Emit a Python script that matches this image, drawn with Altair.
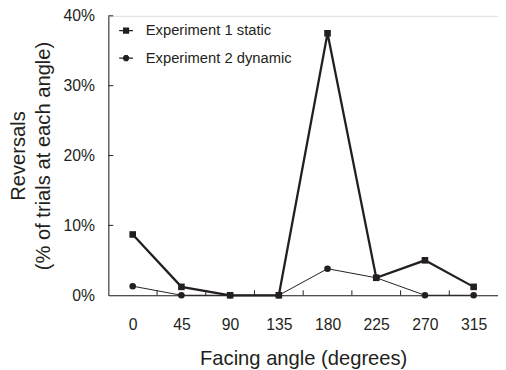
import altair as alt
import pandas as pd

angles = [0, 45, 90, 135, 180, 225, 270, 315]
exp1_static = [0.087, 0.012, 0.0, 0.0, 0.375, 0.025, 0.050, 0.012]
exp2_dynamic = [0.013, 0.0, 0.0, 0.0, 0.038, 0.025, 0.0, 0.0]
series_names = ["Experiment 1 static", "Experiment 2 dynamic"]
tick_bounds = [22.5, 67.5, 112.5, 157.5, 202.5, 247.5, 292.5]
y_ticks = [0.0, 0.1, 0.2, 0.3, 0.4]

rows = []
for a, v in zip(angles, exp1_static):
    rows.append({"angle": a, "value": v, "series": series_names[0]})
for a, v in zip(angles, exp2_dynamic):
    rows.append({"angle": a, "value": v, "series": series_names[1]})
df = pd.DataFrame(rows)

INK = "#231f20"
FONT = "Liberation Sans"
W, H = 396, 284

xscale = alt.Scale(domain=[-22.5, 337.5], nice=False, zero=False)
yscale = alt.Scale(domain=[0, 0.4], nice=False)

xaxis = alt.Axis(values=angles, ticks=False, grid=False, labelFontSize=16, labelFont=FONT,
                 labelColor=INK, labelPadding=22, title="Facing angle (degrees)",
                 titleFont=FONT, titleFontSize=20.5, titleFontWeight="normal", titleColor=INK,
                 titlePadding=16, domainColor=INK, labelAngle=0)
yaxis = alt.Axis(values=y_ticks, format=".0%", ticks=False, grid=False, labelFontSize=16,
                 labelFont=FONT, labelColor=INK, labelPadding=14,
                 title=["Reversals", "(% of  trials at each angle)"], titleFont=FONT,
                 titleFontSize=20.5, titleFontWeight="normal", titleColor=INK, titlePadding=10,
                 domainColor=INK, titleLineHeight=25)

base = alt.Chart(df)

line2 = base.transform_filter(alt.datum.series == series_names[1]).mark_line(
    color=INK, strokeWidth=1).encode(
    x=alt.X("angle:Q", scale=xscale, axis=xaxis),
    y=alt.Y("value:Q", scale=yscale, axis=yaxis))
line1 = base.transform_filter(alt.datum.series == series_names[0]).mark_line(
    color=INK, strokeWidth=2.3).encode(x="angle:Q", y="value:Q")

pts = base.mark_point(filled=True, opacity=1, size=45, color=INK).encode(
    x="angle:Q", y="value:Q",
    shape=alt.Shape("series:N", scale=alt.Scale(domain=series_names[::-1], range=["circle", "square"]),
                    legend=None),
    order=alt.Order("series:N", sort="descending"))

# legend glyphs: a short line with a marker, the marker filled by dense strokes
sq_path = ("M-1,0H1M-0.45,-0.36H0.45M-0.45,-0.21H0.45M-0.45,-0.07H0.45"
           "M-0.45,0.07H0.45M-0.45,0.21H0.45M-0.45,0.36H0.45")
ci_path = ("M-1,0H1M-0.27,-0.36H0.27M-0.4,-0.21H0.4M-0.445,-0.07H0.445"
           "M-0.445,0.07H0.445M-0.4,0.21H0.4M-0.27,0.36H0.27")
leg = base.mark_point(filled=False, color=INK, opacity=0, size=196, strokeWidth=1.3).encode(
    x="angle:Q", y="value:Q",
    shape=alt.Shape("series2:N", scale=alt.Scale(domain=series_names, range=[sq_path, ci_path]),
                    legend=alt.Legend(title=None, orient="none", legendX=10, legendY=7,
                                      labelFont=FONT, labelFontSize=15, labelColor=INK,
                                      symbolOpacity=1, symbolStrokeColor=INK,
                                      symbolStrokeWidth=1.3, symbolSize=196, rowPadding=12,
                                      labelOffset=12, padding=0))
).transform_calculate(series2="datum.series")

bounds_df = pd.DataFrame({"b": tick_bounds})
xt = alt.Chart(bounds_df).mark_rule(color=INK, strokeWidth=1).encode(
    x=alt.X("b:Q", scale=xscale), y=alt.value(H), y2=alt.value(H - 5))
yt_df = pd.DataFrame({"t": y_ticks[1:]})
yt = alt.Chart(yt_df).mark_rule(color=INK, strokeWidth=1).encode(
    y=alt.Y("t:Q", scale=yscale), x=alt.value(0), x2=alt.value(5))

chart = alt.layer(line2, line1, xt, yt, pts, leg).resolve_scale(shape="independent").properties(
    width=W, height=H,
    autosize=alt.AutoSizeParams(type="none"),
    padding={"left": 102, "top": 5, "right": 0, "bottom": 72},
).configure_view(stroke=None).configure(background="white")

chart.save("out.html", embed_options={"renderer": "svg", "actions": False})
